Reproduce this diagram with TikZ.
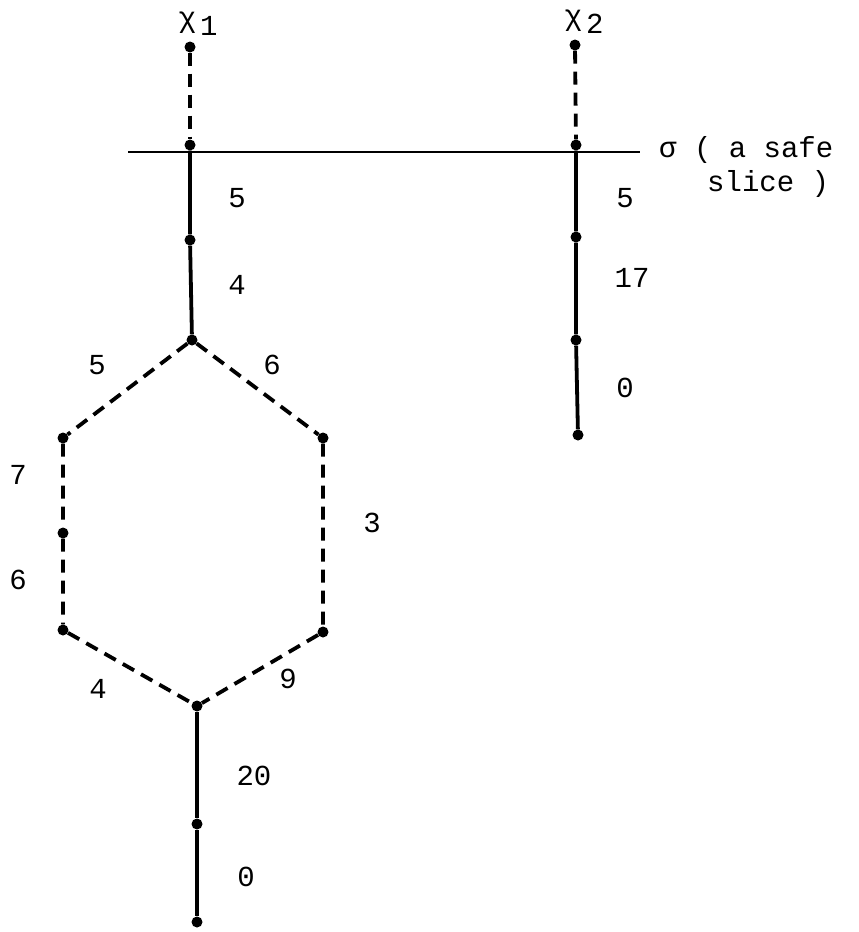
\documentclass[tikz,border=0pt]{standalone}
\usepackage{fontspec}
\setmonofont{Liberation Mono}
\usetikzlibrary{positioning}

\begin{document}
\begin{tikzpicture}[
            x=1pt,y=-1pt,
            vertex/.style={circle,fill,inner sep=0pt,minimum size=11pt},
            solidedge/.style={line width=3.8pt},
            dashedge/.style={line width=3.8pt,dash pattern=on 13pt off 8pt},
            weight/.style={font=\fontsize{29}{34}\selectfont\ttfamily,inner sep=0pt},
            slice/.style={line width=1.6pt}
        ]
            \useasboundingbox (0,0) rectangle (859,932);

            \node[vertex] (x1t) at (190,47) {};
            \node[vertex] (x1s) at (190,145) {};
            \node[vertex] (x1a) at (190,240) {};
            \node[vertex] (ht) at (192,340) {};
            \node[vertex] (hlu) at (63,438) {};
            \node[vertex] (hru) at (323,438) {};
            \node[vertex] (hlm) at (63,533) {};
            \node[vertex] (hll) at (63,630) {};
            \node[vertex] (hrl) at (323,632) {};
            \node[vertex] (hb) at (197,706) {};
            \node[vertex] (b1) at (197,824) {};
            \node[vertex] (b2) at (197,922) {};

            \node[vertex] (x2t) at (575,45) {};
            \node[vertex] (x2s) at (576,145) {};
            \node[vertex] (x2a) at (576,237) {};
            \node[vertex] (x2b) at (576,340) {};
            \node[vertex] (x2c) at (578,435) {};

            \coordinate (sl) at (128,152);
            \coordinate (sr) at (640,152);
            \draw[slice] (sl) -- (sr);

            \draw[dashedge] (x1t) -- (x1s);
            \draw[solidedge] (x1s) -- (x1a) -- (ht);
            \draw[dashedge] (ht) -- (hlu) -- (hlm) -- (hll) -- (hb);
            \draw[dashedge] (ht) -- (hru) -- (hrl) -- (hb);
            \draw[solidedge] (hb) -- (b1) -- (b2);

            \draw[dashedge] (x2t) -- (x2s);
            \draw[solidedge] (x2s) -- (x2a) -- (x2b) -- (x2c);

            \node[weight] (chi1) at (198,24) {χ\kern4pt\raisebox{-8pt}{1}};
            \node[weight] (chi2) at (584,22) {χ\kern4pt\raisebox{-8pt}{2}};
            \node[weight,anchor=west,align=left] (sigma) at (659,167) {σ ( a safe\\\hspace*{48pt}slice )};

            \node[weight] (w1) at (237,198) {5};
            \node[weight] (w2) at (237,285) {4};
            \node[weight] (w3) at (97,365) {5};
            \node[weight] (w4) at (272,365) {6};
            \node[weight] (w5) at (18,475) {7};
            \node[weight] (w6) at (18,580) {6};
            \node[weight] (w7) at (372,523) {3};
            \node[weight] (w8) at (98,689) {4};
            \node[weight] (w9) at (288,679) {9};
            \node[weight] (w10) at (254,776) {20};
            \node[weight] (w11) at (246,877) {0};
            \node[weight] (w12) at (625,198) {5};
            \node[weight] (w13) at (632,278) {17};
            \node[weight] (w14) at (625,388) {0};
        \end{tikzpicture}
\end{document}
